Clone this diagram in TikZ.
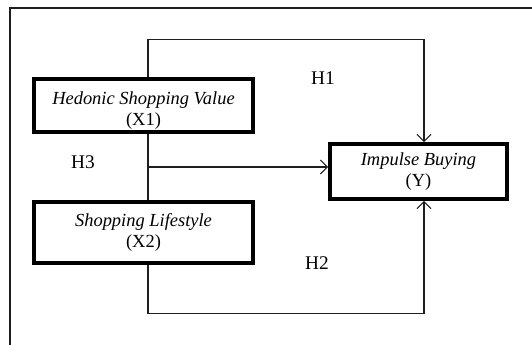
\documentclass[tikz,border=0pt]{standalone}
\usepackage{fontspec}
\setmainfont{Liberation Serif}
\usepackage{xcolor}
\definecolor{lineblack}{RGB}{30,30,30}
\usetikzlibrary{arrows.meta, positioning, calc}

\begin{document}
\begin{tikzpicture}[
    varbox/.style={draw=black, line width=2.1pt, fill=white, align=center, inner sep=0pt,
      font=\fontsize{10.5}{11.5}\selectfont},
    conn/.style={draw=lineblack, line width=0.6pt},
    arr/.style={conn, -{Straight Barb[length=4pt,width=8pt]}},
    hlabel/.style={font=\fontsize{11}{13}\selectfont}
  ]
  \useasboundingbox (0,0) rectangle (10.64,6.9);
  % Frame
  \draw[lineblack, line width=0.6pt] (0.2,0) -- (0.2,6.74) -- (10.64,6.74);

  % Variables
  \node[varbox, minimum width=4.38cm, minimum height=1.06cm] (x1) at (2.87,4.79)
    {\rule{0pt}{1.25em}\textit{Hedonic Shopping Value}\\(X1)};
  \node[varbox, minimum width=4.38cm, minimum height=1.22cm] (x2) at (2.87,2.25)
    {\textit{Shopping Lifestyle}\\(X2)};
  \node[varbox, minimum width=3.54cm, minimum height=1.1cm] (y) at (8.37,3.47)
    {\textit{Impulse Buying}\\(Y)};

  % Lanes for the connectors
  \coordinate (lane) at (2.96,0);
  \coordinate (ylane) at (8.48,0);
  \coordinate (yin) at ($(y.west)+(0,0.09)$);

  % H1: X1 -> Y
  \draw[arr] (x1.north -| lane) -- ++(0,0.76) -| (y.north -| ylane);
  % H2: X2 -> Y
  \draw[arr] (x2.south -| lane) -- ++(0,-0.98) -| (y.south -| ylane);
  % H3: X1, X2 -> Y
  \draw[conn] (x1.south -| lane) -- (x2.north -| lane);
  \draw[arr] (lane |- yin) -- (yin);

  % Hypothesis labels
  \node[hlabel] (h1) at (6.46,5.34) {H1};
  \node[hlabel] (h2) at (6.34,1.64) {H2};
  \node[hlabel] (h3) at (1.66,3.66) {H3};
\end{tikzpicture}
\end{document}
